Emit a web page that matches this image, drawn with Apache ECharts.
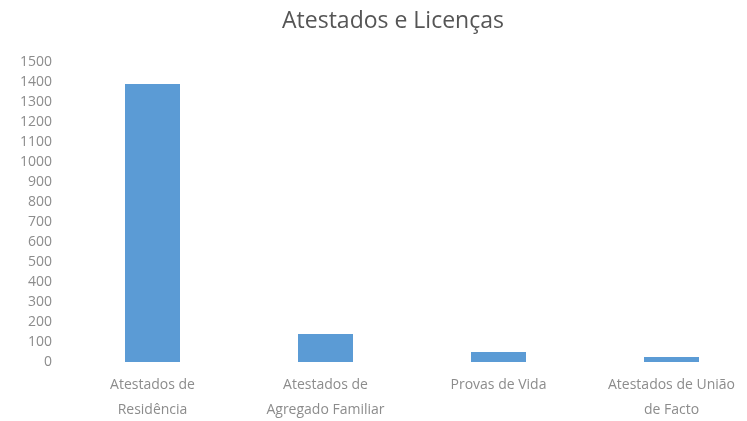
<!DOCTYPE html>
<html>
<head>
<meta charset="utf-8">
<script src="https://cdn.jsdelivr.net/npm/echarts@6/dist/echarts.min.js"></script>
<style>
html,body{margin:0;padding:0;background:#fff;}
#main{width:747px;height:421px;}
</style>
</head>
<body>
<div id="main"></div>
<script>
// dados
var categorias = ['Atestados de\nResidência', 'Atestados de\nAgregado Familiar', 'Provas de Vida', 'Atestados de União\nde Facto'];
var valores = [1390, 140, 50, 25];

var chart = echarts.init(document.getElementById('main'));
var option = {
	animation: false,
	backgroundColor: '#fff',
	title: {
		text: 'Atestados e Licenças',
		left: 388,
		textAlign: 'center',
		top: 5,
		textStyle: {
			fontFamily: 'Open Sans',
			fontWeight: 'normal',
			fontSize: 23,
			color: '#555'
		}
	},
	grid: {
		left: 66,
		width: 692,
		top: 62,
		bottom: 59,
		containLabel: false,
		outerBoundsMode: 'none'
	},
	xAxis: {
		type: 'category',
		data: categorias,
		axisLine: { show: false },
		axisTick: { show: false },
		axisLabel: {
			margin: 11,
			fontFamily: 'Open Sans',
			fontSize: 14,
			lineHeight: 25,
			color: '#8c8c8c'
		}
	},
	yAxis: {
		type: 'value',
		min: 0,
		max: 1500,
		interval: 100,
		splitLine: { show: false },
		axisLine: { show: false },
		axisTick: { show: false },
		axisLabel: {
			margin: 14,
			fontFamily: 'Open Sans',
			fontSize: 14,
			color: '#8c8c8c',
			formatter: function (v) { return String(v); }
		}
	},
	series: [{
		type: 'bar',
		data: valores,
		barWidth: 55,
		itemStyle: { color: '#5b9bd5' }
	}]
};
chart.setOption(option);
</script>
</body>
</html>
